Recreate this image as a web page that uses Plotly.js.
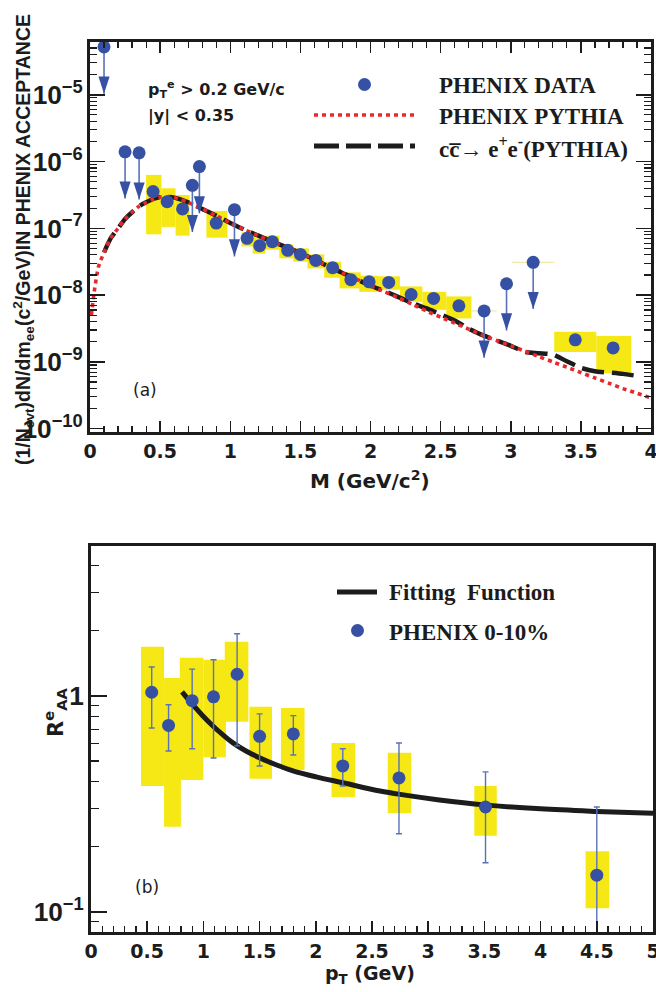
<!DOCTYPE html>
<html>
<head>
<meta charset="utf-8">
<script src="https://cdn.plot.ly/plotly-3.0.1.min.js"></script>
<style>
html,body{margin:0;padding:0;background:#ffffff;}
#chart{width:656px;height:992px;}
</style>
</head>
<body>
<div id="chart"></div>
<script>
// ================= Panel (a): dielectron mass spectrum =================
// PHENIX data points (M in GeV/c^2, yield)
const dataM = [0.45, 0.55, 0.66, 0.90, 1.12, 1.21, 1.30, 1.41, 1.50, 1.61, 1.73, 1.86, 1.99, 2.13, 2.29, 2.45, 2.63, 3.46, 3.73];
const dataY = [3.55e-7, 2.51e-7, 1.95e-7, 1.20e-7, 7.08e-8, 5.50e-8, 6.31e-8, 4.68e-8, 4.07e-8, 3.31e-8, 2.57e-8, 1.70e-8, 1.58e-8, 1.55e-8, 1.02e-8, 8.91e-9, 6.92e-9, 2.14e-9, 1.62e-9];
// systematic boxes (yellow)
const boxMlo = [0.40, 0.51, 0.61, 0.83, 1.08, 1.16, 1.25, 1.35, 1.45, 1.55, 1.67, 1.78, 1.92, 2.06, 2.21, 2.37, 2.54, 3.31, 3.61];
const boxMhi = [0.51, 0.61, 0.71, 0.98, 1.18, 1.25, 1.35, 1.45, 1.56, 1.67, 1.79, 1.93, 2.06, 2.21, 2.37, 2.54, 2.72, 3.61, 3.86];
const boxYlo = [8.13e-8, 1.05e-7, 7.76e-8, 7.24e-8, 5.37e-8, 4.17e-8, 4.79e-8, 3.55e-8, 3.16e-8, 2.51e-8, 1.82e-8, 1.26e-8, 1.12e-8, 1.20e-8, 7.94e-9, 6.03e-9, 4.47e-9, 1.41e-9, 6.76e-10];
const boxYhi = [6.31e-7, 3.98e-7, 3.16e-7, 1.82e-7, 8.71e-8, 7.08e-8, 7.76e-8, 5.75e-8, 5.01e-8, 4.07e-8, 3.16e-8, 2.19e-8, 1.95e-8, 1.91e-8, 1.35e-8, 1.12e-8, 9.55e-9, 2.82e-9, 2.45e-9];
// upper limits (arrows)
const limM = [0.10, 0.25, 0.35, 0.73, 0.78, 1.03, 2.81, 2.97, 3.16];
const limY = [5.2e-5, 1.4e-6, 1.35e-6, 4.4e-7, 8.4e-7, 1.9e-7, 5.8e-9, 1.48e-8, 3.1e-8];
const limMerr = [0, 0, 0, 0, 0, 0, 0.09, 0, 0.15];
// PHENIX PYTHIA (red dotted)
const pythiaM = [0.01, 0.03, 0.06, 0.10, 0.15, 0.20, 0.25, 0.30, 0.35, 0.40, 0.45, 0.50, 0.55, 0.60, 0.65, 0.70, 0.75, 0.80, 0.90, 1.00, 1.10, 1.20, 1.30, 1.40, 1.50, 1.60, 1.70, 1.80, 1.90, 2.00, 2.10, 2.20, 2.30, 2.40, 2.50, 2.60, 2.70, 2.80, 2.90, 3.00, 3.10, 3.20, 3.30, 3.40, 3.50, 3.60, 3.70, 3.80, 3.90, 4.00];
const pythiaY = [5.0e-9, 1.12e-8, 2.63e-8, 4.37e-8, 7.24e-8, 1.0e-7, 1.38e-7, 1.74e-7, 2.14e-7, 2.45e-7, 2.75e-7, 2.95e-7, 2.95e-7, 2.88e-7, 2.69e-7, 2.45e-7, 2.19e-7, 1.95e-7, 1.55e-7, 1.20e-7, 9.55e-8, 7.76e-8, 6.31e-8, 5.25e-8, 4.27e-8, 3.39e-8, 2.69e-8, 2.14e-8, 1.74e-8, 1.38e-8, 1.12e-8, 9.12e-9, 7.24e-9, 5.75e-9, 4.68e-9, 3.80e-9, 3.09e-9, 2.51e-9, 2.09e-9, 1.74e-9, 1.45e-9, 1.20e-9, 1.0e-9, 8.32e-10, 6.92e-10, 5.75e-10, 4.79e-10, 3.98e-10, 3.39e-10, 2.88e-10];
// c cbar -> e+e- (PYTHIA) (black dashed)
const ccM = [0.10, 0.15, 0.20, 0.25, 0.30, 0.35, 0.40, 0.45, 0.50, 0.55, 0.60, 0.65, 0.70, 0.75, 0.80, 0.90, 1.00, 1.10, 1.20, 1.30, 1.40, 1.50, 1.60, 1.70, 1.80, 1.90, 2.00, 2.10, 2.20, 2.30, 2.40, 2.50, 2.60, 2.70, 2.80, 2.90, 3.00, 3.10, 3.20, 3.30, 3.40, 3.50, 3.60, 3.70, 3.80, 3.90];
const ccY = [4.37e-8, 7.24e-8, 1.0e-7, 1.38e-7, 1.74e-7, 2.14e-7, 2.45e-7, 2.75e-7, 2.95e-7, 2.95e-7, 2.88e-7, 2.69e-7, 2.45e-7, 2.19e-7, 1.95e-7, 1.55e-7, 1.20e-7, 9.55e-8, 7.76e-8, 6.31e-8, 5.25e-8, 4.27e-8, 3.39e-8, 2.69e-8, 2.14e-8, 1.74e-8, 1.38e-8, 1.15e-8, 9.33e-9, 7.59e-9, 6.31e-9, 5.13e-9, 4.17e-9, 3.16e-9, 2.51e-9, 2.09e-9, 1.74e-9, 1.41e-9, 1.35e-9, 1.29e-9, 1.02e-9, 8.13e-10, 7.24e-10, 6.92e-10, 6.61e-10, 6.17e-10];
const xTicksA = [0, 0.5, 1, 1.5, 2, 2.5, 3, 3.5, 4];

// ================= Panel (b): R_AA vs pT =================
const ptData = [0.54, 0.69, 0.90, 1.09, 1.30, 1.50, 1.80, 2.24, 2.74, 3.51, 4.50];
const raaData = [1.04, 0.73, 0.95, 0.99, 1.26, 0.65, 0.667, 0.474, 0.417, 0.306, 0.148];
const raaStatHi = [1.36, 0.91, 1.33, 1.47, 1.94, 0.826, 0.81, 0.569, 0.605, 0.445, 0.306];
const raaStatLo = [0.71, 0.556, 0.569, 0.516, 0.587, 0.474, 0.533, 0.383, 0.230, 0.169, 0.07];
const boxPtLo = [0.445, 0.65, 0.79, 1.00, 1.19, 1.41, 1.69, 2.14, 2.64, 3.41, 4.40];
const boxPtHi = [0.65, 0.80, 1.00, 1.20, 1.40, 1.61, 1.90, 2.35, 2.85, 3.61, 4.61];
const boxRaaLo = [0.383, 0.248, 0.408, 0.52, 0.76, 0.413, 0.454, 0.340, 0.287, 0.225, 0.104];
const boxRaaHi = [1.69, 1.21, 1.50, 1.47, 1.78, 0.89, 0.88, 0.605, 0.545, 0.383, 0.191];
const fitPt = [0.81, 0.907, 0.996, 1.085, 1.174, 1.263, 1.379, 1.504, 1.646, 1.797, 2.002, 2.242, 2.571, 2.75, 3.10, 3.50, 4.00, 4.50, 5.00];
const fitRaa = [1.043, 0.908, 0.808, 0.726, 0.660, 0.606, 0.556, 0.516, 0.480, 0.450, 0.422, 0.396, 0.363, 0.350, 0.330, 0.313, 0.300, 0.292, 0.286];

// ================= Styling =================
const BLUE = '#3651a3';
const BLUE_LINE = '#5a72b8';
const YELLOW = '#f5e814';
const RED = '#e8282c';
const BLACK = '#1c1c1c';
const SANS = 'DejaVu Sans, sans-serif';
const ARIAL = 'Liberation Sans, Arial, sans-serif';
const SERIF = 'Liberation Serif, Times New Roman, serif';

// helpers built from the data arrays
const mid = (a, b) => a.map((v, i) => (v + b[i]) / 2);
const diff = (a, b) => a.map((v, i) => b[i] - v);
const ARROW_FACTOR = Math.pow(10, -0.7);

const limLinesX = [], limLinesY = [];
limM.forEach((m, i) => { limLinesX.push(m, m, null); limLinesY.push(limY[i], limY[i] * ARROW_FACTOR, null); });

const traces = [
  // panel a boxes
  {type: 'bar', x: mid(boxMlo, boxMhi), width: diff(boxMlo, boxMhi), base: boxYlo, y: diff(boxYlo, boxYhi),
   marker: {color: YELLOW, line: {width: 0}}, xaxis: 'x', yaxis: 'y', hoverinfo: 'skip', showlegend: false},
  // c cbar black dashed
  {type: 'scatter', mode: 'lines', x: ccM, y: ccY, line: {color: BLACK, width: 4.5, dash: '22px,8px', shape: 'spline', smoothing: 0.6},
   xaxis: 'x', yaxis: 'y', showlegend: false},
  // pythia red dotted
  {type: 'scatter', mode: 'lines', x: pythiaM, y: pythiaY, line: {color: RED, width: 3.6, dash: '4px,4px', shape: 'spline', smoothing: 0.6},
   xaxis: 'x', yaxis: 'y', showlegend: false},
  // upper limit lines
  {type: 'scatter', mode: 'lines', x: limLinesX, y: limLinesY, line: {color: BLUE_LINE, width: 1.6},
   xaxis: 'x', yaxis: 'y', showlegend: false, hoverinfo: 'skip'},
  // upper limit arrowheads
  {type: 'scatter', mode: 'markers', x: limM, y: limY.map(v => v * ARROW_FACTOR),
   marker: {symbol: 'arrow', angle: 180, size: 18, color: BLUE, line: {width: 0}},
   xaxis: 'x', yaxis: 'y', showlegend: false},
  // upper limit points
  {type: 'scatter', mode: 'markers', x: limM, y: limY,
   error_x: {type: 'data', array: limMerr, color: '#efe9a8', thickness: 1.2, width: 0},
   marker: {symbol: 'circle', size: 13, color: BLUE}, xaxis: 'x', yaxis: 'y', showlegend: false},
  // data points
  {type: 'scatter', mode: 'markers', x: dataM, y: dataY, marker: {symbol: 'circle', size: 13, color: BLUE},
   xaxis: 'x', yaxis: 'y', showlegend: false},

  // panel b boxes
  {type: 'bar', x: mid(boxPtLo, boxPtHi), width: diff(boxPtLo, boxPtHi), base: boxRaaLo, y: diff(boxRaaLo, boxRaaHi),
   marker: {color: YELLOW, line: {width: 0}}, xaxis: 'x2', yaxis: 'y2', hoverinfo: 'skip', showlegend: false},
  // fit
  {type: 'scatter', mode: 'lines', x: fitPt, y: fitRaa, line: {color: BLACK, width: 5, shape: 'spline', smoothing: 1},
   xaxis: 'x2', yaxis: 'y2', showlegend: false},
  // data with stat errors
  {type: 'scatter', mode: 'markers', x: ptData, y: raaData,
   error_y: {type: 'data', symmetric: false, array: diff(raaData, raaStatHi), arrayminus: diff(raaStatLo, raaData), color: BLUE_LINE, thickness: 1.4, width: 3},
   marker: {symbol: 'circle', size: 13, color: BLUE}, xaxis: 'x2', yaxis: 'y2', showlegend: false}
];

const frame = {showline: true, linewidth: 3, linecolor: BLACK, showgrid: false, zeroline: false, tickcolor: BLACK};

const layout = {
  width: 656, height: 992,
  margin: {l: 0, r: 0, t: 0, b: 0},
  paper_bgcolor: '#ffffff', plot_bgcolor: '#ffffff',
  barmode: 'overlay', showlegend: false,
  xaxis: Object.assign({}, frame, {
    domain: [90/656, 651/656], anchor: 'y', range: [0, 4], tickmode: 'array', tickvals: xTicksA,
    ticks: 'inside', ticklen: 11, tickwidth: 1.5, mirror: 'allticks', ticklabeloverflow: 'allow',
    minor: {dtick: 0.1, tick0: 0, ticks: 'inside', ticklen: 6, tickwidth: 1.2, tickcolor: BLACK},
    tickfont: {family: SANS, size: 19, color: BLACK, weight: 'bold'}
  }),
  yaxis: Object.assign({}, frame, {
    domain: [1 - 432/992, 1 - 42/992], anchor: 'x', type: 'log', range: [-10.05, -4.21],
    dtick: 1, exponentformat: 'power', showexponent: 'all',
    ticks: 'inside', ticklen: 15, tickwidth: 1.5, mirror: 'allticks',
    minor: {dtick: 'D1', ticks: 'inside', ticklen: 7, tickwidth: 1.2, tickcolor: BLACK},
    tickfont: {family: ARIAL, size: 21, color: BLACK, weight: 'bold'}
  }),
  xaxis2: Object.assign({}, frame, {
    domain: [91/656, 653/656], anchor: 'y2', range: [0, 5], dtick: 0.5, tick0: 0,
    ticks: 'inside', ticklen: 11, tickwidth: 1.5, mirror: true, ticklabeloverflow: 'allow',
    minor: {dtick: 0.1, tick0: 0, ticks: 'inside', ticklen: 6, tickwidth: 1.2, tickcolor: BLACK},
    tickfont: {family: SANS, size: 19, color: BLACK, weight: 'bold'}
  }),
  yaxis2: Object.assign({}, frame, {
    domain: [1 - 932/992, 1 - 546/992], anchor: 'x2', type: 'log', range: [-1.093, 0.694],
    dtick: 1, exponentformat: 'power', showexponent: 'all',
    ticks: 'inside', ticklen: 16, tickwidth: 1.5, mirror: true,
    minor: {dtick: 'D1', ticks: 'inside', ticklen: 8, tickwidth: 1.2, tickcolor: BLACK},
    tickfont: {family: ARIAL, size: 21, color: BLACK, weight: 'bold'}
  }),
  shapes: [
    // legend (a)
    {type: 'circle', xref: 'paper', yref: 'paper', x0: 358/656, x1: 371/656, y0: 1 - 91/992, y1: 1 - 78/992, fillcolor: BLUE, line: {width: 0}},
    {type: 'line', xref: 'paper', yref: 'paper', x0: 314/656, x1: 415/656, y0: 1 - 115/992, y1: 1 - 115/992, line: {color: RED, width: 3.6, dash: '4px,4px'}},
    {type: 'line', xref: 'paper', yref: 'paper', x0: 314/656, x1: 415/656, y0: 1 - 146/992, y1: 1 - 146/992, line: {color: BLACK, width: 5, dash: '25px,7px'}},
    // legend (b)
    {type: 'line', xref: 'paper', yref: 'paper', x0: 337/656, x1: 377/656, y0: 1 - 592/992, y1: 1 - 592/992, line: {color: BLACK, width: 5}},
    {type: 'circle', xref: 'paper', yref: 'paper', x0: 351/656, x1: 364/656, y0: 1 - 637/992, y1: 1 - 624/992, fillcolor: BLUE, line: {width: 0}}
  ],
  annotations: [
    // axis titles
    {xref: 'paper', yref: 'paper', x: 23/656, y: 1 - 240/992, text: '(1/N<sub>evt</sub>)dN/dm<sub>ee</sub>(c<sup>2</sup>/GeV)IN PHENIX ACCEPTANCE',
     textangle: -90, showarrow: false, xanchor: 'center', yanchor: 'middle', font: {family: ARIAL, size: 19.5, color: BLACK, weight: 'bold'}},
    {xref: 'paper', yref: 'paper', x: 370/656, y: 1 - 480/992, text: 'M (GeV/c<sup>2</sup>)', showarrow: false,
     xanchor: 'center', yanchor: 'middle', font: {family: SANS, size: 20, color: BLACK, weight: 'bold'}},
    {xref: 'paper', yref: 'paper', x: 55/656, y: 1 - 712/992, text: 'R<sup>e</sup><sub>AA</sub>', textangle: -90, showarrow: false,
     xanchor: 'center', yanchor: 'middle', font: {family: SANS, size: 21, color: BLACK, weight: 'bold'}},
    {xref: 'paper', yref: 'paper', x: 370/656, y: 1 - 974/992, text: 'p<sub>T</sub> (GeV)', showarrow: false,
     xanchor: 'center', yanchor: 'middle', font: {family: SANS, size: 19, color: BLACK, weight: 'bold'}},
    // panel a texts
    {xref: 'paper', yref: 'paper', x: 146/656, y: 1 - 90/992, text: 'p<sub>T</sub><sup>e</sup> > 0.2 GeV/c', showarrow: false,
     xanchor: 'left', yanchor: 'middle', font: {family: SANS, size: 16, color: BLACK, weight: 'bold'}},
    {xref: 'paper', yref: 'paper', x: 146/656, y: 1 - 116/992, text: '|y| < 0.35', showarrow: false,
     xanchor: 'left', yanchor: 'middle', font: {family: SANS, size: 16, color: BLACK, weight: 'bold'}},
    {xref: 'paper', yref: 'paper', x: 131/656, y: 1 - 390/992, text: '(a)', showarrow: false,
     xanchor: 'left', yanchor: 'middle', font: {family: SANS, size: 17, color: BLACK}},
    {xref: 'paper', yref: 'paper', x: 437/656, y: 1 - 86/992, text: 'PHENIX DATA', showarrow: false,
     xanchor: 'left', yanchor: 'middle', font: {family: SERIF, size: 23, color: BLACK, weight: 'bold'}},
    {xref: 'paper', yref: 'paper', x: 437/656, y: 1 - 117/992, text: 'PHENIX PYTHIA', showarrow: false,
     xanchor: 'left', yanchor: 'middle', font: {family: SERIF, size: 23, color: BLACK, weight: 'bold'}},
    {xref: 'paper', yref: 'paper', x: 437/656, y: 1 - 148/992, text: 'cc\u0305\u2192 e<sup>+</sup>e<sup>-</sup>(PYTHIA)', showarrow: false,
     xanchor: 'left', yanchor: 'middle', font: {family: SERIF, size: 23, color: BLACK, weight: 'bold'}},
    // panel b texts
    {xref: 'paper', yref: 'paper', x: 387/656, y: 1 - 592/992, text: 'Fitting  Function', showarrow: false,
     xanchor: 'left', yanchor: 'middle', font: {family: SERIF, size: 23, color: BLACK, weight: 'bold'}},
    {xref: 'paper', yref: 'paper', x: 387/656, y: 1 - 632/992, text: 'PHENIX 0-10%', showarrow: false,
     xanchor: 'left', yanchor: 'middle', font: {family: SERIF, size: 23, color: BLACK, weight: 'bold'}},
    {xref: 'paper', yref: 'paper', x: 133/656, y: 1 - 887/992, text: '(b)', showarrow: false,
     xanchor: 'left', yanchor: 'middle', font: {family: SANS, size: 17, color: BLACK}}
  ]
};

Plotly.newPlot('chart', traces, layout, {displayModeBar: false, staticPlot: true});
</script>
</body>
</html>
